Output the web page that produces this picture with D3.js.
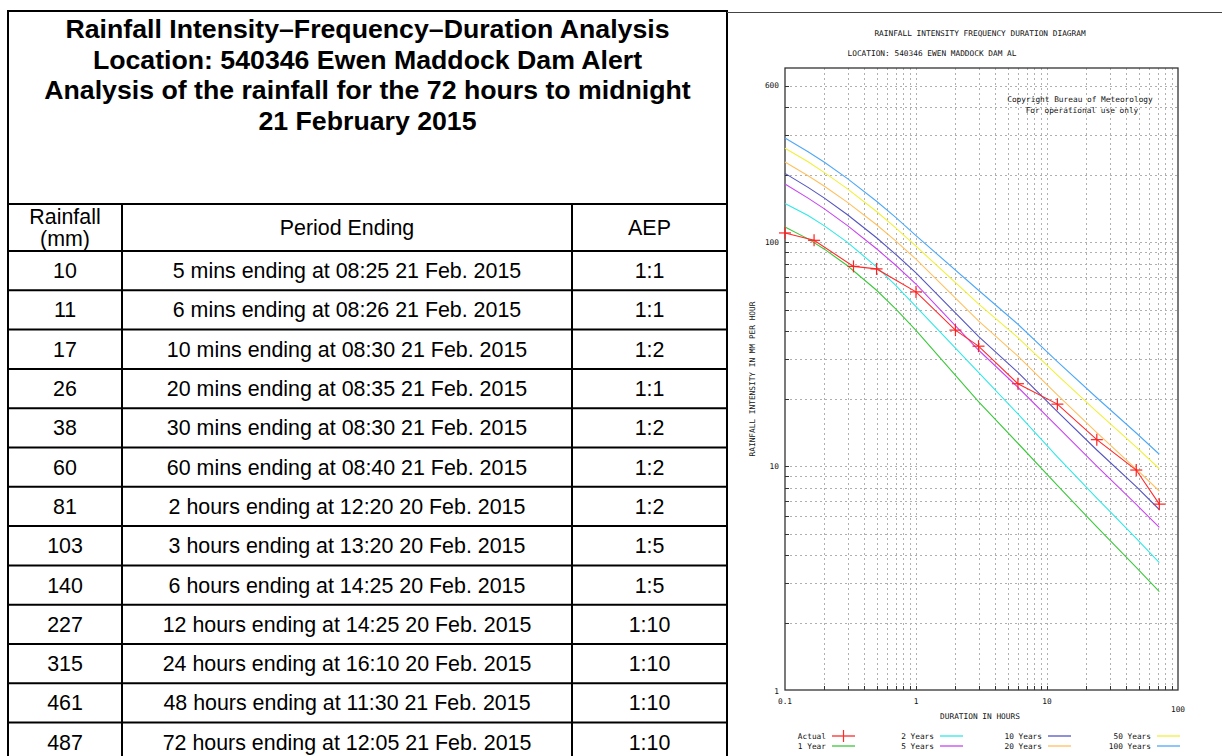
<!DOCTYPE html>
<html>
<head>
<meta charset="utf-8">
<script src="https://cdn.jsdelivr.net/npm/d3@7"></script>
<style>
  html, body { margin: 0; padding: 0; background: #fff; }
  svg { display: block; }
  .tbl { font-family: "Liberation Sans", Arial, sans-serif; fill: #000; }
  .mono { font-family: "DejaVu Sans Mono", "Liberation Mono", monospace; font-size: 7.8px; fill: #111; }
</style>
</head>
<body>
<svg id="chart" width="1222" height="756"></svg>
<script>
// ---- table data ----
const titleLines = [
  'Rainfall Intensity\u2013Frequency\u2013Duration Analysis',
  'Location: 540346 Ewen Maddock Dam Alert',
  'Analysis of the rainfall for the 72 hours to midnight',
  '21 February 2015'
];
const rainfallMm = [10, 11, 17, 26, 38, 60, 81, 103, 140, 227, 315, 461, 487];
const periodLabels = [
  '5 mins ending at 08:25 21 Feb. 2015',
  '6 mins ending at 08:26 21 Feb. 2015',
  '10 mins ending at 08:30 21 Feb. 2015',
  '20 mins ending at 08:35 21 Feb. 2015',
  '30 mins ending at 08:30 21 Feb. 2015',
  '60 mins ending at 08:40 21 Feb. 2015',
  '2 hours ending at 12:20 20 Feb. 2015',
  '3 hours ending at 13:20 20 Feb. 2015',
  '6 hours ending at 14:25 20 Feb. 2015',
  '12 hours ending at 14:25 20 Feb. 2015',
  '24 hours ending at 16:10 20 Feb. 2015',
  '48 hours ending at 11:30 21 Feb. 2015',
  '72 hours ending at 12:05 21 Feb. 2015'
];
const aepLabels = ['1:1', '1:1', '1:2', '1:1', '1:2', '1:2', '1:2', '1:5', '1:5', '1:10', '1:10', '1:10', '1:10'];
// duration of each period in hours
const periodHours = [0.0833, 0.1, 0.1667, 0.3333, 0.5, 1, 2, 3, 6, 12, 24, 48, 72];

// ---- IFD curves (mm/h) ----
const ifdHours = [0.1, 0.15, 0.2, 0.3, 0.5, 0.7, 1, 3, 6, 12, 24, 48, 72];
const ifd1yr   = [117, 103.5, 93.1, 78.5, 61.0, 50.4, 40.4, 19.4, 12.65, 8.2, 5.35, 3.53, 2.75];
const ifd2yr   = [149, 131.5, 118.3, 99.8, 77.6, 64.1, 51.5, 26.2, 17.1, 11.0, 7.2, 4.76, 3.71];
const ifd5yr   = [182, 157.4, 140.9, 118.6, 93.5, 78.9, 65, 33, 22.5, 15.0, 10.0, 6.74, 5.32];
const ifd10yr  = [203, 175.8, 157.4, 132.7, 104.7, 88.3, 73, 38, 26.2, 17.5, 11.8, 8.1, 6.4];
const ifd20yr  = [228, 198.2, 177.8, 150.7, 119.7, 101.4, 84, 44.5, 31, 20.8, 14.1, 9.7, 7.74];
const ifd50yr  = [263, 228.6, 204.6, 173.0, 137.1, 115.9, 96, 53, 37.5, 25.5, 17.5, 12.15, 9.73];
const ifd100yr = [292, 253.5, 227.5, 192.3, 152.4, 129.1, 107, 61, 43, 29.3, 20.2, 14.06, 11.3];

const xGridTicks = [0.2, 0.3, 0.4, 0.5, 0.6, 0.7, 0.8, 0.9, 1, 2, 3, 4, 5, 6, 7, 8, 9, 10, 20, 30, 40, 50, 60, 70, 80, 90];
const yGridTicks = [2, 3, 4, 5, 6, 7, 8, 9, 10, 20, 30, 40, 50, 60, 70, 80, 90, 100, 200, 300, 400, 500];
const xLabelTicks = [0.1, 1, 10, 100];
const yLabelTicks = [1, 10, 100];

const svg = d3.select('#chart');

// ================= TABLE =================
function drawTable() {
  const left = 8, right = 727, top = 11, titleBottom = 204, headBottom = 251, rowH = 39.3;
  const col1 = 122, col2 = 572;
  const bodySize = '21.4px';
  const g = svg.append('g');

  const nRows = rainfallMm.length;
  const bottom = headBottom + rowH * nRows;

  // borders
  g.append('rect').attr('x', left).attr('y', top).attr('width', right - left).attr('height', bottom - top)
    .attr('fill', 'none').attr('stroke', '#000').attr('stroke-width', 2);
  g.append('line').attr('x1', left).attr('x2', right).attr('y1', titleBottom).attr('y2', titleBottom)
    .attr('stroke', '#000').attr('stroke-width', 2);
  for (let i = 0; i < nRows; i++) {
    const y = headBottom + rowH * i;
    g.append('line').attr('x1', left).attr('x2', right).attr('y1', y).attr('y2', y)
      .attr('stroke', '#000').attr('stroke-width', 2);
  }
  [col1, col2].forEach(x => {
    g.append('line').attr('x1', x).attr('x2', x).attr('y1', titleBottom).attr('y2', bottom)
      .attr('stroke', '#000').attr('stroke-width', 2);
  });

  // title
  g.selectAll('text.title').data(titleLines).enter().append('text')
    .attr('class', 'tbl title')
    .attr('x', (left + right) / 2)
    .attr('y', (d, i) => 29 + i * 30.5)
    .attr('dy', '0.35em')
    .attr('text-anchor', 'middle')
    .style('font-size', '26.7px').style('font-weight', 'bold')
    .text(d => d);

  // header
  const hy = (titleBottom + headBottom) / 2;
  g.append('text').attr('class', 'tbl').attr('x', (left + col1) / 2).attr('y', hy - 11).attr('dy', '0.35em')
    .attr('text-anchor', 'middle').style('font-size', bodySize).text('Rainfall');
  g.append('text').attr('class', 'tbl').attr('x', (left + col1) / 2).attr('y', hy + 11).attr('dy', '0.35em')
    .attr('text-anchor', 'middle').style('font-size', bodySize).text('(mm)');
  g.append('text').attr('class', 'tbl').attr('x', (col1 + col2) / 2).attr('y', hy).attr('dy', '0.35em')
    .attr('text-anchor', 'middle').style('font-size', bodySize).text('Period Ending');
  g.append('text').attr('class', 'tbl').attr('x', (col2 + right) / 2).attr('y', hy).attr('dy', '0.35em')
    .attr('text-anchor', 'middle').style('font-size', bodySize).text('AEP');

  // rows
  const rows = g.selectAll('g.row').data(rainfallMm).enter().append('g')
    .attr('transform', (d, i) => `translate(0,${headBottom + rowH * (i + 0.5)})`);
  rows.append('text').attr('class', 'tbl').attr('x', (left + col1) / 2).attr('dy', '0.35em')
    .attr('text-anchor', 'middle').style('font-size', bodySize).text(d => d);
  rows.append('text').attr('class', 'tbl').attr('x', (col1 + col2) / 2).attr('dy', '0.35em')
    .attr('text-anchor', 'middle').style('font-size', bodySize).text((d, i) => periodLabels[i]);
  rows.append('text').attr('class', 'tbl').attr('x', (col2 + right) / 2).attr('dy', '0.35em')
    .attr('text-anchor', 'middle').style('font-size', bodySize).text((d, i) => aepLabels[i]);
}

// ================= IFD DIAGRAM =================
function drawDiagram() {
  const g = svg.append('g');
  const x = d3.scaleLog().domain([0.1, 100]).range([785, 1178]);
  const y = d3.scaleLog().domain([1, 600]).range([690, 68]);
  const [x0, x1] = x.range();
  const [y0, y1] = y.range();

  // outer box line at top of diagram panel
  g.append('line').attr('x1', 727).attr('x2', 1222).attr('y1', 12.5).attr('y2', 12.5)
    .attr('stroke', '#444').attr('stroke-width', 1);

  // headings
  g.append('text').attr('class', 'mono').attr('x', 980).attr('y', 33).attr('dy', '0.35em')
    .attr('text-anchor', 'middle').text('RAINFALL INTENSITY FREQUENCY DURATION DIAGRAM');
  g.append('text').attr('class', 'mono').attr('x', 932).attr('y', 53).attr('dy', '0.35em')
    .attr('text-anchor', 'middle').text('LOCATION: 540346 EWEN MADDOCK DAM AL');

  // grid
  g.selectAll('line.vg').data(xGridTicks).enter().append('line')
    .attr('x1', d => Math.round(x(d)) + 0.5).attr('x2', d => Math.round(x(d)) + 0.5)
    .attr('y1', y1).attr('y2', y0)
    .attr('stroke', '#b0b0b0').attr('stroke-width', 1).attr('stroke-dasharray', '2,3');
  g.selectAll('line.hg').data(yGridTicks).enter().append('line')
    .attr('x1', x0).attr('x2', x1)
    .attr('y1', d => Math.round(y(d)) + 0.5).attr('y2', d => Math.round(y(d)) + 0.5)
    .attr('stroke', '#b0b0b0').attr('stroke-width', 1).attr('stroke-dasharray', '2,3');

  // small tick marks along bottom and left
  g.selectAll('line.xt').data(xGridTicks).enter().append('line')
    .attr('x1', d => Math.round(x(d)) + 0.5).attr('x2', d => Math.round(x(d)) + 0.5)
    .attr('y1', y0).attr('y2', y0 - 4).attr('stroke', '#333');
  g.selectAll('line.yt').data(yGridTicks).enter().append('line')
    .attr('x1', x0).attr('x2', x0 + 4)
    .attr('y1', d => Math.round(y(d)) + 0.5).attr('y2', d => Math.round(y(d)) + 0.5).attr('stroke', '#333');

  // frame
  g.append('rect').attr('x', x0).attr('y', y1).attr('width', x1 - x0).attr('height', y0 - y1)
    .attr('fill', 'none').attr('stroke', '#333').attr('stroke-width', 1.3);

  // axis labels
  g.selectAll('text.xl').data(xLabelTicks).enter().append('text')
    .attr('class', 'mono').attr('x', d => x(d)).attr('y', d => d === 100 ? 709 : 701)
    .attr('dy', '0.35em').attr('text-anchor', 'middle')
    .text(d => d);
  g.selectAll('text.yl').data(yLabelTicks).enter().append('text')
    .attr('class', 'mono').attr('x', 779).attr('y', d => d === 1 ? y(d) + 1.5 : y(d))
    .attr('dy', '0.35em').attr('text-anchor', 'end')
    .text(d => d);
  // top label sits on the highest gridline
  g.append('text').attr('class', 'mono').attr('x', 779).attr('y', y(yGridTicks[yGridTicks.length - 1]))
    .attr('dy', '0.35em').attr('text-anchor', 'end').text(y.domain()[1]);

  g.append('text').attr('class', 'mono').attr('x', 980).attr('y', 716).attr('dy', '0.35em')
    .attr('text-anchor', 'middle').text('DURATION IN HOURS');
  g.append('text').attr('class', 'mono')
    .attr('transform', 'translate(752,379) rotate(-90)')
    .attr('dy', '0.35em').attr('text-anchor', 'middle').text('RAINFALL INTENSITY IN MM PER HOUR');

  g.append('text').attr('class', 'mono').attr('x', 1080).attr('y', 99).attr('dy', '0.35em')
    .attr('text-anchor', 'middle').text('Copyright Bureau of Meteorology');
  g.append('text').attr('class', 'mono').attr('x', 1082).attr('y', 110).attr('dy', '0.35em')
    .attr('text-anchor', 'middle').text('For operational use only');

  // IFD curves
  const curves = [
    { name: '1 Year', values: ifd1yr, color: '#3cc83c' },
    { name: '2 Years', values: ifd2yr, color: '#30e8e8' },
    { name: '5 Years', values: ifd5yr, color: '#c845f0' },
    { name: '10 Years', values: ifd10yr, color: '#5454c0' },
    { name: '20 Years', values: ifd20yr, color: '#ffc060' },
    { name: '50 Years', values: ifd50yr, color: '#f0f03c' },
    { name: '100 Years', values: ifd100yr, color: '#4ea8f8' }
  ];
  const line = d3.line().x(d => x(d[0])).y(d => y(d[1]));
  g.selectAll('path.ifd').data(curves).enter().append('path')
    .attr('fill', 'none').attr('stroke', d => d.color).attr('stroke-width', 1.1)
    .attr('d', d => line(ifdHours.map((h, i) => [h, d.values[i]])));

  // actual rainfall (only durations inside the axis range)
  const actual = periodHours.map((h, i) => [h, rainfallMm[i] / h]).filter(d => d[0] >= x.domain()[0]);
  g.append('path').attr('fill', 'none').attr('stroke', '#ff2a2a').attr('stroke-width', 1.1)
    .attr('d', line(actual));
  const mk = g.selectAll('g.mk').data(actual).enter().append('g')
    .attr('transform', d => `translate(${x(d[0])},${y(d[1])})`);
  mk.append('line').attr('x1', -6).attr('x2', 6).attr('stroke', '#ff2020').attr('stroke-width', 1.2);
  mk.append('line').attr('y1', -6).attr('y2', 6).attr('stroke', '#ff2020').attr('stroke-width', 1.2);

  // legend
  const legendItems = [{ name: 'Actual', color: '#ff2a2a', marker: true }].concat(curves);
  const colRight = [826, 934, 1042, 1151];
  const rowY = [736, 746];
  legendItems.forEach((d, i) => {
    const c = Math.floor(i / 2), r = i % 2;
    const tx = colRight[c], ty = rowY[r];
    g.append('text').attr('class', 'mono').attr('x', tx).attr('y', ty).attr('dy', '0.35em')
      .attr('text-anchor', 'end').text(d.name);
    g.append('line').attr('x1', tx + 6).attr('x2', tx + 29).attr('y1', ty).attr('y2', ty)
      .attr('stroke', d.color).attr('stroke-width', 1.3);
    if (d.marker) {
      g.append('line').attr('x1', tx + 17.5).attr('x2', tx + 17.5).attr('y1', ty - 6).attr('y2', ty + 6)
        .attr('stroke', d.color).attr('stroke-width', 1.2);
    }
  });
}

drawTable();
drawDiagram();
</script>
</body>
</html>
